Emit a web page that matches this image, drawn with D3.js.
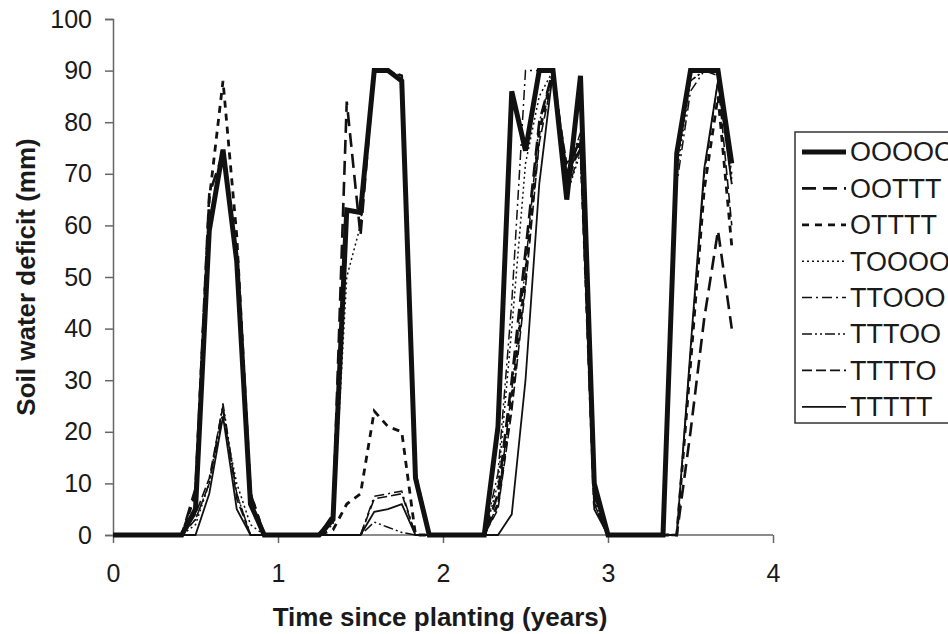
<!DOCTYPE html>
<html>
<head>
<meta charset="utf-8">
<script src="https://cdn.jsdelivr.net/npm/d3@7"></script>
<style>
  html, body { margin: 0; padding: 0; background: #fff; }
  svg { display: block; }
  text { font-family: "Liberation Sans", Arial, sans-serif; fill: #1a1a1a; }
</style>
</head>
<body>
<svg id="chart" width="948" height="634"></svg>
<script>
// ---- data (monthly values, time = month / 12 years) ----
const months = [0,1,2,3,4,5,6,7,8,9,10,11,12,13,14,15,16,17,18,19,20,21,22,23,24,25,26,27,28,29,30,31,32,33,34,35,36,37,38,39,40,41,42,43,44,45];
const seriesNames = ["OOOOO","OOTTT","OTTTT","TOOOO","TTOOO","TTTOO","TTTTO","TTTTT"];
const OOOOO = [0,0,0,0,0,0,5,59,74.7,53,6,0, 0,0,0,0,3,63,62.5,90,90,88,11,0, 0,0,0,0,21,86,74.5,90,90,65,89,10,0, 0,0,0,0,74,90,90,90,72];
const OOTTT = [0,0,0,0,0,0,9,66,74,54,8,0, 0,0,0,0,4,84,58,90,90,89,12,0, 0,0,0,0,8,30,55,80,90,70,77,8,0, 0,0,0,0,0,20,42,59,40];
const OTTTT = [0,0,0,0,0,0,8,65,88,58,8,0, 0,0,0,0,1,6,8,24,21,20,0,0, 0,0,0,0,6,26,50,78,90,68,76,6,0, 0,0,0,0,0,33,67,85,56];
const TOOOO = [0,0,0,0,0,0,2,10,23,10,2,0, 0,0,0,0,2,50,60,90,90,89,10,0, 0,0,0,0,10,40,72,85,90,66,74,8,0, 0,0,0,0,70,88,90,90,68];
const TTOOO = [0,0,0,0,0,0,3,10,24,8,0,0, 0,0,0,0,0,0,0,7.5,8,8.5,0,0, 0,0,0,0,12,45,90,90,90,66,75,8,0, 0,0,0,0,68,86,90,90,70];
const TTTOO = [0,0,0,0,0,0,3,10,25.5,8,0,0, 0,0,0,0,0,0,0,2.5,1.5,0.5,0,0, 0,0,0,0,6,28,52,80,90,70,78,7,0, 0,0,0,0,72,88,90,89,69];
const TTTTO = [0,0,0,0,0,0,4,11,25,7,0,0, 0,0,0,0,0,0,0,7,7.5,8,0,0, 0,0,0,0,5,24,48,76,89,72,76,6,0, 0,0,0,0,0,35,70,88,60];
const TTTTT = [0,0,0,0,0,0,0,8,23,5,0,0, 0,0,0,0,0,0,0,4.5,5,6,0,0, 0,0,0,0,0,4,30,68,90,70,75,5,0, 0,0,0,0,0,36,71,88,68];
const xTicks = [0,1,2,3,4];
const yTicks = [0,10,20,30,40,50,60,70,80,90,100];
const xTitle = "Time since planting (years)";
const yTitle = "Soil water deficit (mm)";

const seriesValues = [OOOOO, OOTTT, OTTTT, TOOOO, TTOOO, TTTOO, TTTTO, TTTTT];
const styles = [
  { w: 5,   dash: null },
  { w: 2.6, dash: "14,7" },
  { w: 2.8, dash: "7,6" },
  { w: 1.5, dash: "2,3" },
  { w: 1.5, dash: "10,4,2,4" },
  { w: 1.5, dash: "10,3,2,3,2,3" },
  { w: 1.6, dash: "10,4" },
  { w: 1.8, dash: null }
];

const svg = d3.select("#chart");
const x = d3.scaleLinear().domain([0, 4]).range([113, 773]);
const y = d3.scaleLinear().domain([0, 100]).range([535, 19]);

// axes
const gx = svg.append("g").attr("transform", "translate(0,535)")
  .call(d3.axisBottom(x).tickValues(xTicks).tickFormat(d3.format("d")).tickSize(8).tickPadding(21));
const gy = svg.append("g").attr("transform", "translate(113,0)")
  .call(d3.axisLeft(y).tickValues(yTicks).tickSize(8).tickPadding(13));
[gx, gy].forEach(g => {
  g.select(".domain").attr("stroke", "#666").attr("stroke-width", 1.5);
  g.selectAll(".tick line").attr("stroke", "#666").attr("stroke-width", 1.5);
  g.selectAll(".tick text").style("font-size", "25px").attr("fill", "#1a1a1a")
    .style("font-family", "'Liberation Sans', Arial, sans-serif");
});
gx.select(".domain").attr("d", "M113,0H773");

// lines
const line = d3.line().x((d, i) => x(months[i] / 12)).y(d => y(d));
const order = [7,6,5,4,3,2,1,0];
order.forEach(k => {
  svg.append("path")
    .datum(seriesValues[k])
    .attr("d", line)
    .attr("fill", "none")
    .attr("stroke", "#111")
    .attr("stroke-width", styles[k].w)
    .attr("stroke-dasharray", styles[k].dash)
    .attr("stroke-linejoin", "miter")
    .attr("stroke-linecap", "butt");
});

// axis titles
svg.append("text").attr("x", 440).attr("y", 626).attr("text-anchor", "middle")
  .style("font-size", "26px").style("font-weight", "bold").text(xTitle);
svg.append("text").attr("transform", "translate(35,277) rotate(-90)").attr("text-anchor", "middle")
  .style("font-size", "26px").style("font-weight", "bold").text(yTitle);

// legend
const lg = svg.append("g");
lg.append("rect").attr("x", 795).attr("y", 132).attr("width", 200).attr("height", 291)
  .attr("fill", "#fff").attr("stroke", "#333").attr("stroke-width", 1.5);
seriesNames.forEach((name, k) => {
  const cy = 152 + k * 36.4;
  lg.append("line").attr("x1", 802).attr("x2", 846).attr("y1", cy).attr("y2", cy)
    .attr("stroke", "#111").attr("stroke-width", styles[k].w)
    .attr("stroke-dasharray", styles[k].dash);
  lg.append("text").attr("x", 850).attr("y", cy).attr("dy", "0.35em")
    .style("font-size", "27px").text(name);
});
</script>
</body>
</html>
